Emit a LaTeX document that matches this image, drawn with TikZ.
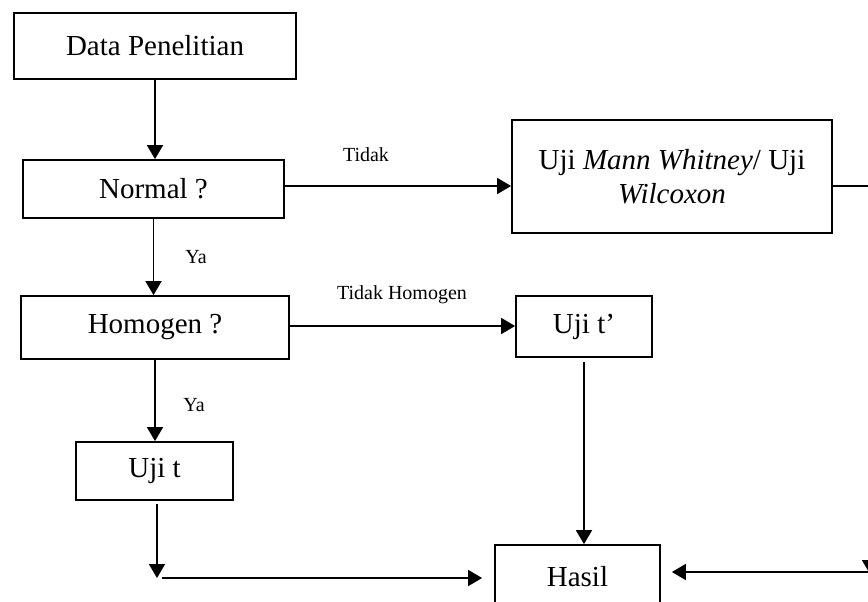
\documentclass[tikz,border=0pt]{standalone}
\usepackage{fontspec}
\setmainfont{Liberation Serif}
\usetikzlibrary{arrows.meta}
\tikzset{
  kotak/.style={draw,line width=0.9pt,align=center,inner sep=0pt,font=\fontsize{14.5}{17}\selectfont},
  panah/.style={line width=0.9pt,-{Triangle[length=7pt,width=8pt]}},
  garis/.style={line width=0.9pt},
  ket/.style={font=\fontsize{10}{12}\selectfont}
}
\begin{document}
\begin{tikzpicture}[x=0.5pt,y=-0.5pt]
\useasboundingbox (0,0) rectangle (868,601);
\clip (0,0) rectangle (868,601);
\node[kotak,minimum width=141pt,minimum height=33pt] (data) at (155,46) {Data Penelitian};
\node[kotak,minimum width=130.5pt,minimum height=29pt] (normal) at (153.5,189) {Normal ?};
\node[kotak,minimum width=134pt,minimum height=31.5pt] (homogen) at (155,327.5) {Homogen ?};
\node[kotak,minimum width=78.5pt,minimum height=29pt] (ujit) at (154.5,471) {Uji t};
\node[kotak,minimum width=160pt,minimum height=56.5pt] (mann) at (672,176.5) {Uji \textit{Mann Whitney}/ Uji\\ \textit{Wilcoxon}};
\node[kotak,minimum width=68pt,minimum height=30.5pt] (ujitp) at (584,326.5) {Uji t’};
\node[kotak,minimum width=82.5pt,minimum height=32pt] (hasil) at (577.5,577) {Hasil};
% titik bantu
\coordinate (tdk) at (400,186);
\coordinate (tdkhom) at (400,326);
\coordinate (sudut) at (157,578);
\coordinate (kanan) at (870,186);
\coordinate (kananbawah) at (870,574);
\coordinate (kehasil) at (870,572);
% label
\node[ket] (tidak) at (366,155) {Tidak};
\node[ket] (tidakhom) at (402,295) {Tidak Homogen};
\node[ket] (ya1) at (196,257) {Ya};
\node[ket] (ya2) at (194,405) {Ya};
% panah
\draw[panah] (data.south) -- (data.south |- normal.north);
\draw[panah] (normal.south) -- (normal.south |- homogen.north);
\draw[panah] (normal.east |- tdk) -- (mann.west |- tdk);
\draw[panah] (homogen.south) -- (homogen.south |- ujit.north);
\draw[panah] (homogen.east |- tdkhom) -- (ujitp.west |- tdkhom);
\draw[panah,shorten <=1.5pt] (ujit.south -| sudut) -- (sudut);
\draw[panah,shorten >=6pt] ([xshift=2.5pt]sudut) -- (hasil.west |- sudut);
\draw[panah,shorten <=2pt] (ujitp.south) -- (ujitp.south |- hasil.north);
\draw[garis] (mann.east |- kanan) -- (kanan);
\draw[panah] (kanan) -- (kananbawah);
\draw[panah,shorten >=5.5pt] (kehasil) -- (hasil.east |- kehasil);
\end{tikzpicture}
\end{document}
